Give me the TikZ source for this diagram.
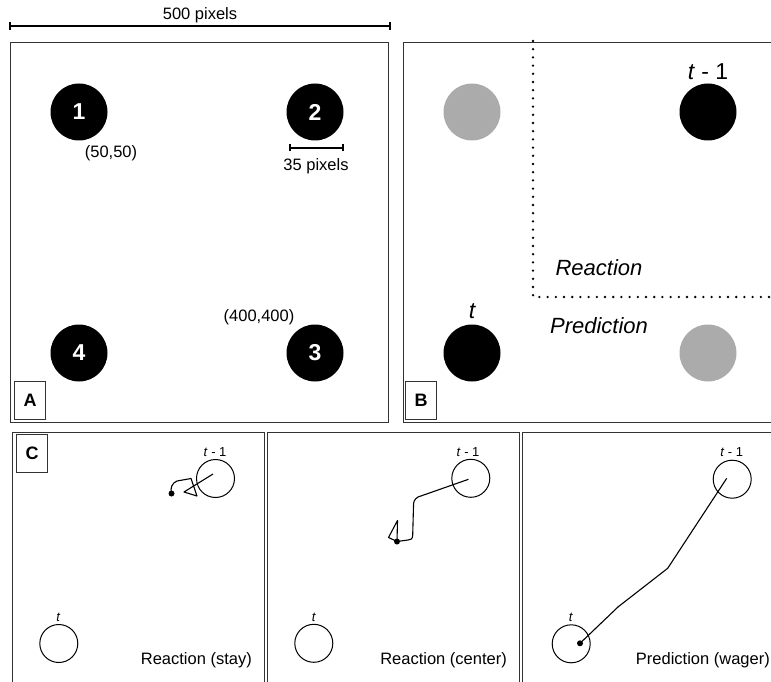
\documentclass[tikz,border=0pt]{standalone}
\usepackage{fontspec}
\setmainfont{Liberation Sans}
\begin{document}
\begin{tikzpicture}[x=1pt,y=-1pt,
  panel/.style={draw=black!80, line width=1pt},
  lblbox/.style={draw=black!80, line width=1pt, minimum width=31pt, minimum height=38pt, inner sep=0pt, font=\fontsize{18}{20}\selectfont\bfseries},
  bigdot/.style={circle, fill=black, minimum size=57pt, inner sep=0pt, text=white, font=\fontsize{23}{24}\selectfont\bfseries},
  graydot/.style={circle, fill=black!33, minimum size=57pt, inner sep=0pt},
  ring/.style={circle, draw=black, line width=1pt, minimum size=38pt, inner sep=0pt},
  ann/.style={inner sep=0pt, font=\fontsize{16.5}{19}\selectfont},
  bigann/.style={inner sep=0pt, font=\fontsize{22}{25}\selectfont\itshape},
  smallann/.style={inner sep=0pt, font=\fontsize{13}{15}\selectfont},
  bar/.style={line width=1.1pt},
  traj/.style={line width=1.1pt, line join=round},
  dotline/.style={line width=2.6pt, line cap=round, dash pattern=on 0pt off 8.2pt}
]
\useasboundingbox (0,0) rectangle (771,682);
\clip (0,0) rectangle (771,682);

% scale bar
\coordinate (sbL) at (10,26);
\coordinate (sbR) at (390,26);
\draw[bar] (sbL) -- (sbR);
\draw[bar] ([yshift=-4pt]sbL) -- ([yshift=4pt]sbL);
\draw[bar] ([yshift=-4pt]sbR) -- ([yshift=4pt]sbR);
\node[ann] (sbt) at (200,15) {500 pixels};

% Panel A
\draw[panel] (10,43) rectangle (388.5,422);
\node[bigdot] (a1) at (79,112) {1};
\node[bigdot] (a2) at (315,112) {2};
\node[bigdot] (a3) at (315,353) {3};
\node[bigdot] (a4) at (79,353) {4};
\node[ann] (c5050) at (111,153) {(50,50)};
\node[ann] (c400) at (259,317) {(400,400)};
\coordinate (r35L) at (290,148);
\coordinate (r35R) at (343,148);
\draw[bar] (r35L) -- (r35R);
\draw[bar] ([yshift=-3.5pt]r35L) -- ([yshift=3.5pt]r35L);
\draw[bar] ([yshift=-3.5pt]r35R) -- ([yshift=3.5pt]r35R);
\node[ann] (t35) at (316,166) {35 pixels};
\node[lblbox] (la) at (30,400) {A};

% Panel B
\draw[panel] (403,43) rectangle (790,422);
\node[graydot] (b1) at (472,112) {};
\node[bigdot] (b2) at (708,112) {};
\node[bigdot] (b4) at (472,353) {};
\node[graydot] (b3) at (708,353) {};
\node[inner sep=0pt, font=\fontsize{23}{25}\selectfont] (bt1) at (708,72) {\textit{t} - 1};
\node[inner sep=0pt, font=\fontsize{23}{25}\selectfont\itshape] (bt) at (472,311) {t};
\coordinate (dtop) at (533,41);
\coordinate (dcorner) at (533,297);
\coordinate (dright) at (775,297);
\draw[dotline] (dtop) -- (dcorner) -- (dright);
\node[bigann] (react) at (599,268) {Reaction};
\node[bigann] (pred) at (599,326) {Prediction};
\node[lblbox] (lb) at (421,400) {B};

% Panel C
\draw[panel] (12.5,432) rectangle (264.5,700);
\draw[panel] (267.5,432) rectangle (519.5,700);
\draw[panel] (522.5,432) rectangle (790,700);
\node[lblbox] (lc) at (32,453) {C};

% C1
\node[ring] (c1p) at (215.5,478.5) {};
\node[ring] (c1t) at (58.8,643.5) {};
\node[smallann] (c1pl) at (215,452) {\textit{t} - 1};
\node[smallann] (c1tl) at (58.5,617) {\textit{t}};
\node[ann, anchor=east] (c1lab) at (252,660) {Reaction (stay)};
\coordinate (p1a) at (213,474);
\coordinate (p1b) at (184,492);
\coordinate (p1c) at (197,496);
\coordinate (p1d) at (191,478.5);
\coordinate (p1e) at (177,481);
\coordinate (p1f) at (171.5,493.5);
\draw[traj] (p1a) -- (p1b) -- (p1c) -- (p1d) -- (p1e) .. controls (172,483) and (170,488) .. (p1f);
\fill (p1f) circle (3pt);

% C2
\node[ring] (c2p) at (470.8,478.3) {};
\node[ring] (c2t) at (313.8,643.3) {};
\node[smallann] (c2pl) at (468,452) {\textit{t} - 1};
\node[smallann] (c2tl) at (314,617) {\textit{t}};
\node[ann, anchor=east] (c2lab) at (507,660) {Reaction (center)};
\coordinate (p2a) at (468.5,479.3);
\coordinate (p2c) at (412.7,535);
\coordinate (p2d) at (408,540);
\coordinate (p2e) at (397,541.5);
\coordinate (p2f) at (397.5,520.5);
\coordinate (p2g) at (388.5,537.5);
\draw[traj] (p2a) -- (418,497) .. controls (414,499.5) and (413.5,502) .. (413.5,506) -- (p2c) .. controls (412.5,539) and (411,540) .. (p2d) -- (p2e) -- (p2f) -- (p2g) -- (p2e);
\fill (p2e) circle (3pt);

% C3
\node[ring] (c3p) at (732.2,479.2) {};
\node[ring] (c3t) at (571.2,643.8) {};
\node[smallann] (c3pl) at (731.7,452) {\textit{t} - 1};
\node[smallann] (c3tl) at (571,617) {\textit{t}};
\node[ann, anchor=east] (c3lab) at (770,660) {Prediction (wager)};
\coordinate (p3a) at (726.7,478.3);
\coordinate (p3b) at (667.7,568.3);
\coordinate (p3c) at (618.3,606.7);
\coordinate (p3d) at (580,643.3);
\draw[traj] (p3a) -- (p3b) -- (p3c) -- (p3d);
\fill (p3d) circle (3pt);
\end{tikzpicture}
\end{document}
